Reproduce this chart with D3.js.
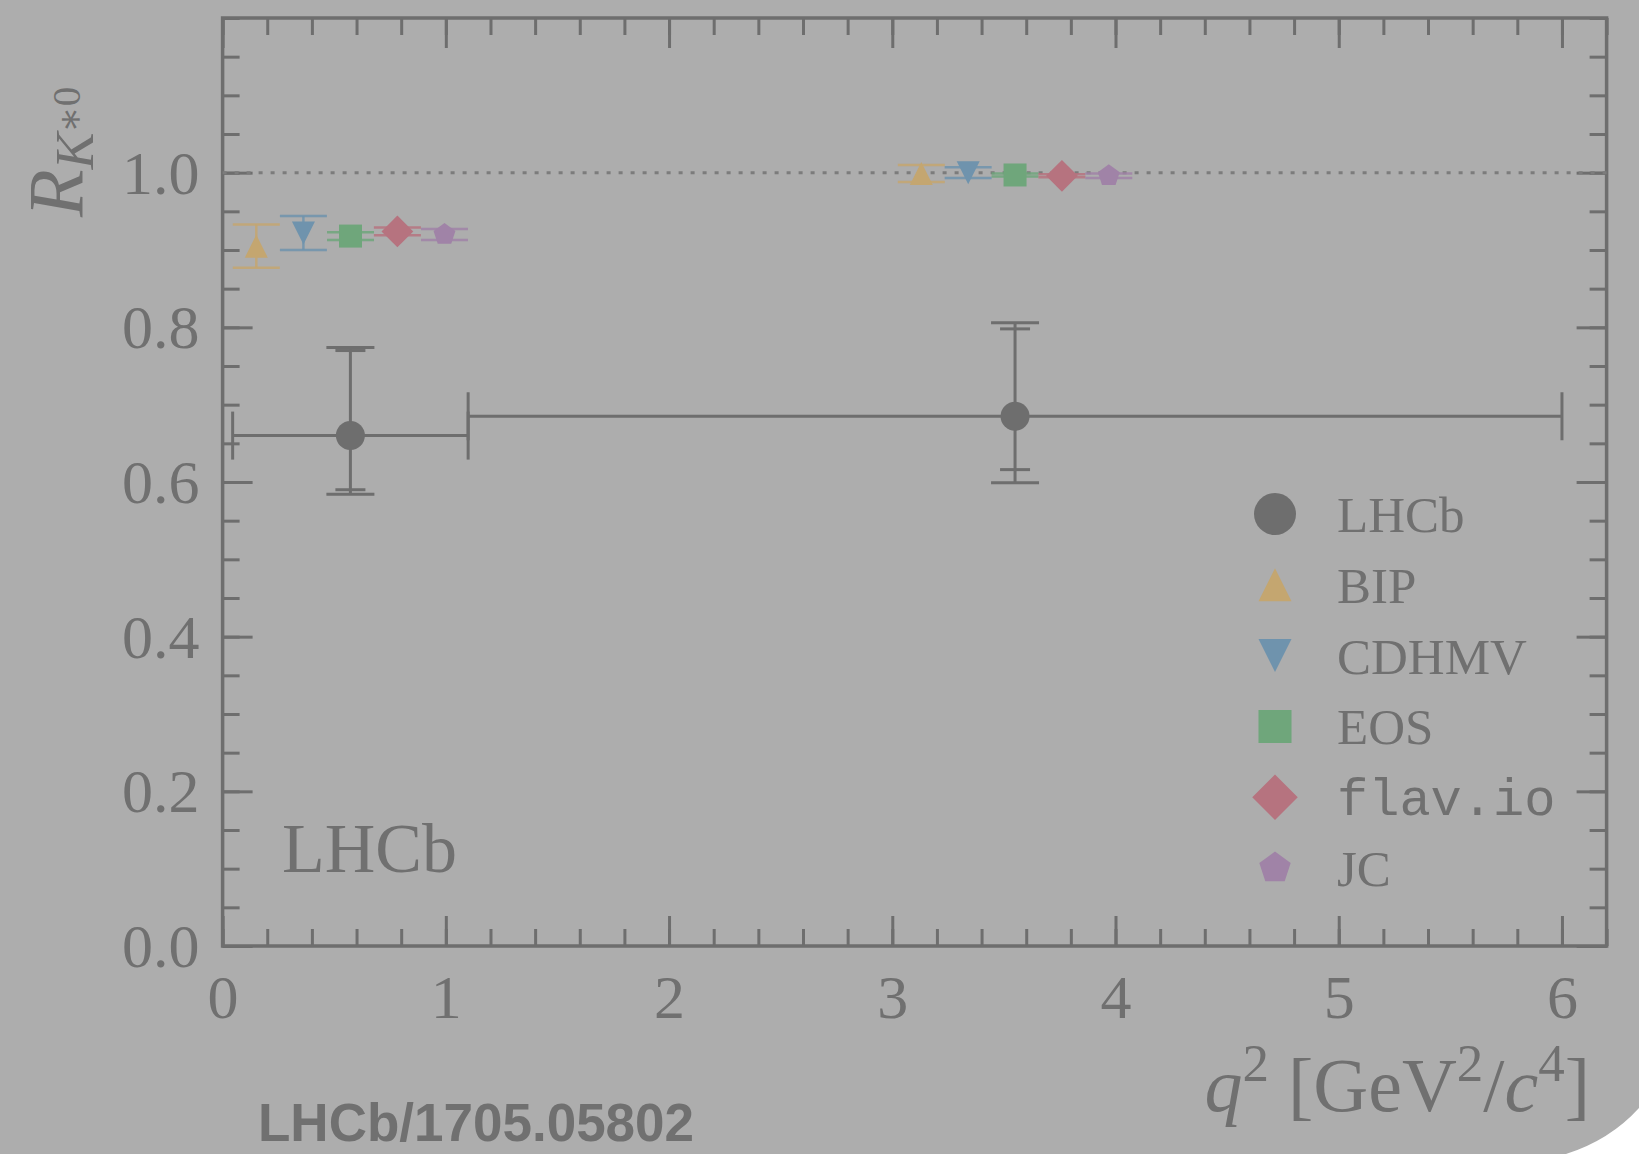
<!DOCTYPE html>
<html>
<head>
<meta charset="utf-8">
<script src="https://cdn.jsdelivr.net/npm/d3@7"></script>
<style>
  body { margin: 0; background: #ffffff; }
  svg { display: block; }
</style>
</head>
<body>
<div id="chart"></div>
<script>
// LHCb measurement, two q2 bins
const binLow = [0.045, 1.1];
const binHigh = [1.1, 6.0];
const binCenter = [0.5725, 3.55];
const lhcbValue = [0.66, 0.685];
const statUp = [0.11, 0.113];
const statDown = [0.07, 0.069];
const totalUp = [0.114, 0.121];
const totalDown = [0.076, 0.086];

// theory predictions, one entry per model
const models = ["BIP", "CDHMV", "EOS", "flav.io", "JC"];
const modelXLow = [0.151, 0.362, 0.573, 0.783, 0.994];
const modelXCentral = [3.130, 3.340, 3.550, 3.760, 3.970];
const modelLow = [0.905, 0.922, 0.918, 0.924, 0.920];
const modelLowErr = [0.028, 0.022, 0.005, 0.005, 0.007];
const modelCentral = [0.999, 1.000, 0.997, 0.996, 0.996];
const modelCentralErr = [0.011, 0.007, 0.002, 0.002, 0.003];

const xTickLabels = [0, 1, 2, 3, 4, 5, 6];
const yTickLabels = [0.0, 0.2, 0.4, 0.6, 0.8, 1.0];

function chart() {
    const width = 1639,
        height = 1154;

    const bg = "#adadad",
        ink = "#6e6e6e",
        textInk = "#707070";

    const modelColor = {
        "BIP": "#c4a670",
        "CDHMV": "#6f93ad",
        "EOS": "#6fa67b",
        "flav.io": "#b6737f",
        "JC": "#a083a7"
    };
    const modelShape = {
        "BIP": "tri-up",
        "CDHMV": "tri-down",
        "EOS": "square",
        "flav.io": "diamond",
        "JC": "pentagon"
    };

    const svg = d3.select("#chart").append("svg")
        .attr("width", width)
        .attr("height", height);

    svg.append("rect")
        .attr("width", width)
        .attr("height", height)
        .attr("fill", bg);

    // white corner at the bottom right
    svg.append("path")
        .attr("d", "M1639,1108 Q1610,1140 1566,1154 L1639,1154 Z")
        .attr("fill", "#ffffff");

    const x = d3.scaleLinear().domain([0, 6.2]).range([222.6, 1606.6]);
    const y = d3.scaleLinear().domain([0, 1.2]).range([946, 18]);

    const serif = "'Liberation Serif', 'DejaVu Serif', serif";

    // ticks, inward on all four sides
    function styleAxis(g) {
        g.select(".domain").remove();
        g.attr("font-size", null).attr("font-family", null);
        g.selectAll("line").attr("stroke", ink).attr("stroke-width", 3);
        g.selectAll("text")
            .attr("fill", textInk)
            .style("font-family", serif)
            .style("font-size", "62px");
    }

    const xMinor = d3.range(0, 6.21, 0.2);
    const yMinor = d3.range(0, 1.21, 0.05);

    svg.append("g").attr("transform", `translate(0,${y(0)})`)
        .call(d3.axisBottom(x).tickValues(xMinor).tickSize(-17).tickSizeOuter(0).tickFormat(""))
        .call(styleAxis);
    svg.append("g").attr("transform", `translate(0,${y(0)})`)
        .call(d3.axisBottom(x).tickValues(xTickLabels).tickSize(-30).tickSizeOuter(0).tickFormat(d3.format("d")))
        .call(styleAxis)
        .call(g => g.selectAll("text").attr("y", 72).attr("dy", null));

    svg.append("g").attr("transform", `translate(0,${y(1.2)})`)
        .call(d3.axisTop(x).tickValues(xMinor).tickSize(-17).tickSizeOuter(0).tickFormat(""))
        .call(styleAxis);
    svg.append("g").attr("transform", `translate(0,${y(1.2)})`)
        .call(d3.axisTop(x).tickValues(xTickLabels).tickSize(-30).tickSizeOuter(0).tickFormat(""))
        .call(styleAxis);

    svg.append("g").attr("transform", `translate(${x(0)},0)`)
        .call(d3.axisLeft(y).tickValues(yMinor).tickSize(-17).tickSizeOuter(0).tickFormat(""))
        .call(styleAxis);
    svg.append("g").attr("transform", `translate(${x(0)},0)`)
        .call(d3.axisLeft(y).tickValues(yTickLabels).tickSize(-30).tickSizeOuter(0).tickFormat(d3.format(".1f")))
        .call(styleAxis)
        .call(g => g.selectAll("text").attr("x", -23).attr("dy", "0.33em"));

    svg.append("g").attr("transform", `translate(${x(6.2)},0)`)
        .call(d3.axisRight(y).tickValues(yMinor).tickSize(-17).tickSizeOuter(0).tickFormat(""))
        .call(styleAxis);
    svg.append("g").attr("transform", `translate(${x(6.2)},0)`)
        .call(d3.axisRight(y).tickValues(yTickLabels).tickSize(-30).tickSizeOuter(0).tickFormat(""))
        .call(styleAxis);

    // frame
    svg.append("rect")
        .attr("x", x(0))
        .attr("y", y(1.2))
        .attr("width", x(6.2) - x(0))
        .attr("height", y(0) - y(1.2))
        .attr("fill", "none")
        .attr("stroke", ink)
        .attr("stroke-width", 3.5);

    // SM reference line
    svg.append("line")
        .attr("x1", x(0)).attr("x2", x(6.2))
        .attr("y1", y(1)).attr("y2", y(1))
        .attr("stroke", "#7c7c7c")
        .attr("stroke-width", 3)
        .attr("stroke-dasharray", "4,8");

    function markerPath(shape, s) {
        const h = s / 2;
        if (shape == "tri-up") return `M0,${-h}L${h},${h}L${-h},${h}Z`;
        if (shape == "tri-down") return `M0,${h}L${h},${-h}L${-h},${-h}Z`;
        if (shape == "square") return `M${-h},${-h}H${h}V${h}H${-h}Z`;
        if (shape == "diamond") {
            const d = h * 1.38;
            return `M0,${-d}L${d},0L0,${d}L${-d},0Z`;
        }
        if (shape == "pentagon") {
            const r = h;
            const pts = d3.range(5).map(i => {
                const a = -Math.PI / 2 + i * 2 * Math.PI / 5;
                return [r * Math.cos(a), r * Math.sin(a)];
            });
            return "M" + pts.map(p => p.join(",")).join("L") + "Z";
        }
        return d3.symbol(d3.symbolCircle, Math.PI * h * h)();
    }

    // theory predictions
    const theory = [];
    models.forEach((m, i) => {
        theory.push({model: m, q: modelXLow[i], v: modelLow[i], e: modelLowErr[i]});
        theory.push({model: m, q: modelXCentral[i], v: modelCentral[i], e: modelCentralErr[i]});
    });

    const theory_g = svg.append("g").selectAll("g").data(theory)
        .join("g")
        .attr("stroke", d => modelColor[d.model])
        .attr("stroke-width", 2.5)
        .attr("stroke-opacity", 0.85);

    theory_g.append("line")
        .attr("x1", d => x(d.q)).attr("x2", d => x(d.q))
        .attr("y1", d => y(d.v + d.e)).attr("y2", d => y(d.v - d.e));
    theory_g.append("line")
        .attr("x1", d => x(d.q) - 23.5).attr("x2", d => x(d.q) + 23.5)
        .attr("y1", d => y(d.v + d.e)).attr("y2", d => y(d.v + d.e));
    theory_g.append("line")
        .attr("x1", d => x(d.q) - 23.5).attr("x2", d => x(d.q) + 23.5)
        .attr("y1", d => y(d.v - d.e)).attr("y2", d => y(d.v - d.e));

    svg.append("g").selectAll("path").data(theory)
        .join("path")
        .attr("transform", d => `translate(${x(d.q)},${y(d.v)})`)
        .attr("d", d => markerPath(modelShape[d.model], 23))
        .attr("fill", d => modelColor[d.model]);

    // LHCb data
    const lhcb = binCenter.map((q, i) => ({
        q: q, lo: binLow[i], hi: binHigh[i], v: lhcbValue[i],
        su: statUp[i], sd: statDown[i], tu: totalUp[i], td: totalDown[i]
    }));

    const data_g = svg.append("g").selectAll("g").data(lhcb)
        .join("g")
        .attr("stroke", ink)
        .attr("stroke-width", 3);

    data_g.append("line")
        .attr("x1", d => x(d.lo)).attr("x2", d => x(d.hi))
        .attr("y1", d => y(d.v)).attr("y2", d => y(d.v));
    data_g.append("line")
        .attr("x1", d => x(d.q)).attr("x2", d => x(d.q))
        .attr("y1", d => y(d.v + d.tu)).attr("y2", d => y(d.v - d.td));

    const caps = [];
    lhcb.forEach(d => {
        caps.push({x1: x(d.lo), x2: x(d.lo), y1: y(d.v) - 24, y2: y(d.v) + 24});
        caps.push({x1: x(d.hi), x2: x(d.hi), y1: y(d.v) - 24, y2: y(d.v) + 24});
        caps.push({x1: x(d.q) - 24, x2: x(d.q) + 24, y1: y(d.v + d.tu), y2: y(d.v + d.tu)});
        caps.push({x1: x(d.q) - 24, x2: x(d.q) + 24, y1: y(d.v - d.td), y2: y(d.v - d.td)});
        caps.push({x1: x(d.q) - 15, x2: x(d.q) + 15, y1: y(d.v + d.su), y2: y(d.v + d.su)});
        caps.push({x1: x(d.q) - 15, x2: x(d.q) + 15, y1: y(d.v - d.sd), y2: y(d.v - d.sd)});
    });
    svg.append("g").selectAll("line").data(caps)
        .join("line")
        .attr("x1", d => d.x1).attr("x2", d => d.x2)
        .attr("y1", d => d.y1).attr("y2", d => d.y2)
        .attr("stroke", ink)
        .attr("stroke-width", 3);

    svg.append("g").selectAll("circle").data(lhcb)
        .join("circle")
        .attr("cx", d => x(d.q))
        .attr("cy", d => y(d.v))
        .attr("r", 14.5)
        .attr("fill", ink);

    // legend
    const legendItems = ["LHCb"].concat(models);
    const legend = svg.append("g").selectAll("g").data(legendItems)
        .join("g")
        .attr("transform", (d, i) => `translate(1275,${514 + i * 70.8})`);

    legend.append("path")
        .attr("d", d => d == "LHCb" ? markerPath("circle", 42) : markerPath(modelShape[d], 33))
        .attr("fill", d => d == "LHCb" ? ink : modelColor[d]);

    legend.append("text")
        .attr("x", 62)
        .attr("y", 18)
        .attr("fill", textInk)
        .style("font-family", d => d == "flav.io" ? "'Liberation Mono', 'DejaVu Sans Mono', monospace" : serif)
        .style("font-size", d => d == "flav.io" ? "52px" : "51px")
        .text(d => d);

    // texts
    svg.append("text")
        .attr("x", 282)
        .attr("y", 872)
        .attr("fill", textInk)
        .style("font-family", serif)
        .style("font-size", "70px")
        .text("LHCb");

    const xlabel = svg.append("text")
        .attr("x", 1590)
        .attr("y", 1111)
        .attr("text-anchor", "end")
        .attr("fill", textInk)
        .style("font-family", serif)
        .style("font-size", "76px");
    xlabel.append("tspan").style("font-style", "italic").text("q");
    xlabel.append("tspan").attr("dy", -30).style("font-size", "53px").text("2");
    xlabel.append("tspan").attr("dy", 30).text(" [GeV");
    xlabel.append("tspan").attr("dy", -30).style("font-size", "53px").text("2");
    xlabel.append("tspan").attr("dy", 30).text("/");
    xlabel.append("tspan").style("font-style", "italic").text("c");
    xlabel.append("tspan").attr("dy", -30).style("font-size", "53px").text("4");
    xlabel.append("tspan").attr("dy", 30).text("]");

    const ylabel = svg.append("text")
        .attr("transform", "translate(82,217) rotate(-90)")
        .attr("fill", textInk)
        .style("font-family", serif)
        .style("font-size", "78px");
    ylabel.append("tspan").style("font-style", "italic").text("R");
    ylabel.append("tspan").attr("dy", 11).style("font-style", "italic").style("font-size", "55px").text("K");
    ylabel.append("tspan").attr("dy", -10).style("font-size", "39px").text("∗");
    ylabel.append("tspan").attr("dy", -3).style("font-size", "39px").text("0");

    svg.append("text")
        .attr("x", 258)
        .attr("y", 1141)
        .attr("fill", textInk)
        .style("font-family", "'Liberation Sans', Arial, sans-serif")
        .style("font-weight", "bold")
        .style("font-size", "53px")
        .text("LHCb/1705.05802");
}

window.onload = function() {
    chart();
};
</script>
</body>
</html>
